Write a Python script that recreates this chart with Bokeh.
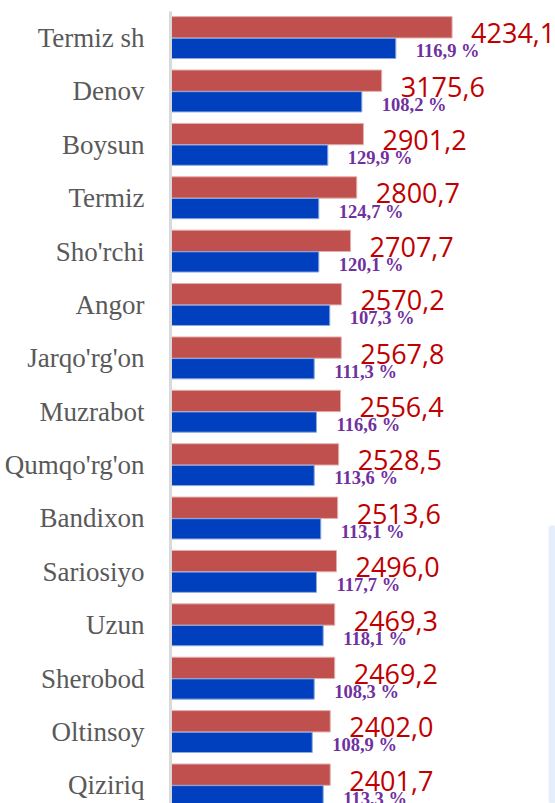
from bokeh.plotting import figure
from bokeh.models import ColumnDataSource, Range1d, FixedTicker, BoxAnnotation
from bokeh.core.properties import value
from bokeh.embed import file_html
from bokeh.resources import INLINE

districts = ["Termiz sh", "Denov", "Boysun", "Termiz", "Sho'rchi", "Angor",
             "Jarqo'rg'on", "Muzrabot", "Qumqo'rg'on", "Bandixon", "Sariosiyo",
             "Uzun", "Sherobod", "Oltinsoy", "Qiziriq"]
current = [4234.1, 3175.6, 2901.2, 2800.7, 2707.7, 2570.2, 2567.8, 2556.4,
           2528.5, 2513.6, 2496.0, 2469.3, 2469.2, 2402.0, 2401.7]
previous = [3388, 2877, 2365, 2230, 2230, 2395, 2161, 2195, 2161, 2260,
            2195, 2296, 2161, 2131, 2296]
growth_pct = [116.9, 108.2, 129.9, 124.7, 120.1, 107.3, 111.3, 116.6, 113.6,
              113.1, 117.7, 118.1, 108.3, 108.9, 113.3]

idx = list(range(len(districts)))
src = ColumnDataSource(dict(
    y=idx,
    y_red=[i - 0.2 for i in idx],
    y_blue=[i + 0.195 for i in idx],
    cur=current,
    prev=previous,
    cur_lbl=[f"{v:.1f}".replace(".", ",") for v in current],
    pct_lbl=[f"{v:.1f} %".replace(".", ",") for v in growth_pct],
))

X_END = 5789
p = figure(width=555, height=803, output_backend="svg", toolbar_location=None,
           x_range=Range1d(0, X_END), y_range=Range1d(14.34, -0.496),
           min_border_left=170, min_border_right=0, min_border_top=11,
           min_border_bottom=0)
p.outline_line_color = None
p.xgrid.visible = False
p.ygrid.visible = False
p.xaxis.visible = False

# faint background panel at the right edge (slide artefact)
bg = BoxAnnotation(left=X_END * 0.982, top=9.13,
                   fill_color="#E6EEFC", fill_alpha=1, line_color=None,
                   border_radius=14, level="underlay")
p.add_layout(bg)

p.hbar(y="y_red", left=0, right="cur", height=0.4, source=src,
       fill_color="#C0504D", line_color="#E3B0AF", line_width=1)
p.hbar(y="y_blue", left=0, right="prev", height=0.38, source=src,
       fill_color="#0040BF", line_color="#8CA8E0", line_width=1)

p.text(x="cur", y="y_red", text="cur_lbl", source=src,
       text_font=value("Open Sans"), text_font_size=value("27px"),
       text_color="#C00000", text_align="left", text_baseline="middle",
       x_offset=19, y_offset=6)
p.text(x="prev", y="y_blue", text="pct_lbl", source=src,
       text_font=value("Liberation Serif"), text_font_size=value("18.5px"),
       text_font_style="bold", text_color="#7030A0", text_align="left",
       text_baseline="middle", x_offset=20, y_offset=3)

ax = p.yaxis[0]
ax.ticker = FixedTicker(ticks=idx)
ax.major_label_overrides = {i: d for i, d in zip(idx, districts)}
ax.major_tick_line_color = None
ax.minor_tick_line_color = None
ax.axis_line_color = "#D9D9D9"
ax.axis_line_width = 3
ax.major_label_standoff = 20
ax.major_label_text_font = "Liberation Serif"
ax.major_label_text_font_size = "27px"
ax.major_label_text_color = "#595959"

open("out.html", "w").write(file_html(p, INLINE))
